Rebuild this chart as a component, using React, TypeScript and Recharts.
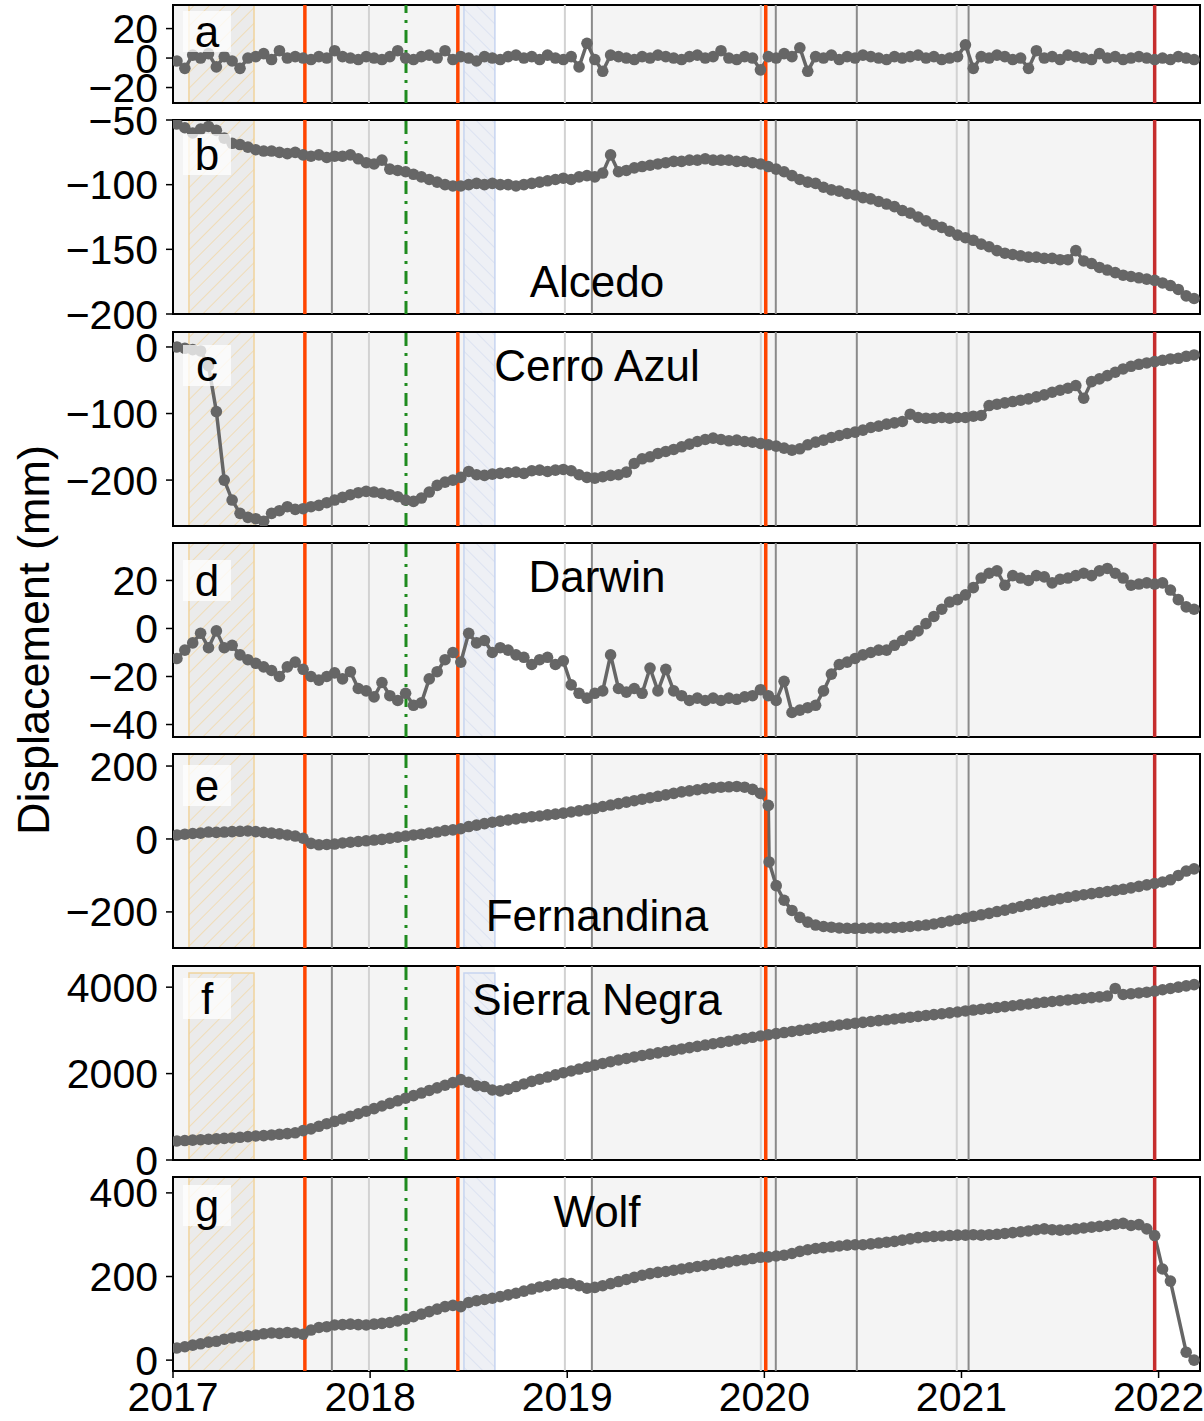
import React from "react";
import { ComposedChart, Line, XAxis, YAxis, ReferenceArea, ReferenceLine } from "recharts";

// acquisition epochs (decimal years); 2020.024 is an extra scene used only by Fernandina
const EPOCHS = [
  2017.02, 2017.06, 2017.1, 2017.14, 2017.18, 2017.22, 2017.26, 2017.3, 2017.34, 2017.38, 2017.42, 2017.46, 2017.5, 2017.54, 2017.58, 2017.62, 2017.66, 2017.7, 2017.74, 2017.78, 2017.82, 2017.86, 2017.9, 2017.94, 2017.98,
  2018.02, 2018.06, 2018.1, 2018.14, 2018.18, 2018.22, 2018.26, 2018.3, 2018.34, 2018.38, 2018.42, 2018.46, 2018.5, 2018.54, 2018.58, 2018.62, 2018.66, 2018.7, 2018.74, 2018.78, 2018.82, 2018.86, 2018.9, 2018.94, 2018.98,
  2019.02, 2019.06, 2019.1, 2019.14, 2019.18, 2019.22, 2019.26, 2019.3, 2019.34, 2019.38, 2019.42, 2019.46, 2019.5, 2019.54, 2019.58, 2019.62, 2019.66, 2019.7, 2019.74, 2019.78, 2019.82, 2019.86, 2019.9, 2019.94, 2019.98,
  2020.02, 2020.024, 2020.06, 2020.1, 2020.14, 2020.18, 2020.22, 2020.26, 2020.3, 2020.34, 2020.38, 2020.42, 2020.46, 2020.5, 2020.54, 2020.58, 2020.62, 2020.66, 2020.7, 2020.74, 2020.78, 2020.82, 2020.86, 2020.9, 2020.94, 2020.98,
  2021.02, 2021.06, 2021.1, 2021.14, 2021.18, 2021.22, 2021.26, 2021.3, 2021.34, 2021.38, 2021.42, 2021.46, 2021.5, 2021.54, 2021.58, 2021.62, 2021.66, 2021.7, 2021.74, 2021.78, 2021.82, 2021.86, 2021.9, 2021.94, 2021.98,
  2022.02, 2022.06, 2022.1, 2022.14, 2022.18,
];

// displacement in mm, one row per year
const REFERENCE = [
  -2, -7, 2, 0, 3, -6, 1, -2, -7, 0, 1, 3, -1, 5, 0, 1, 0, -1, 1, 0, 5, 1, 0, -1, 1,
  0, -1, 1, 5, 0, -1, 1, 2, 0, 5, -1, 1, 0, -2, 1, 0, -1, 1, 2, 0, 1, -1, 2, 0, -1,
  1, -6, 10, -1, -9, 2, 1, 0, -1, 1, 0, 2, 1, 0, -1, 1, 2, 0, 1, 5, 0, -1, 1, 0, -8,
  1, null, 0, 3, 1, 7, -9, 1, 0, 2, -1, 1, 0, 2, 1, 0, -1, 1, 0, 1, 2, 0, 1, -1, 0, 1,
  9, -7, 1, 0, 2, 1, -1, 0, -7, 5, 0, 1, -1, 2, 1, 0, -1, 3, 0, 1, -1, 0, 1, 0, -1,
  0, -1, 1, 0, -1,
];

const ALCEDO = [
  -53, -56, -60, -57, -55, -58, -64, -68, -69, -71, -73, -74, -74, -75, -76, -75, -77, -78, -77, -79, -78, -78, -77, -80, -83,
  -84, -81, -88, -89, -90, -92, -94, -96, -98, -100, -101, -101, -100, -99, -100, -99, -100, -100, -101, -100, -99, -98, -97, -96, -95,
  -96, -94, -93, -94, -91, -77, -90, -89, -87, -86, -85, -84, -83, -82, -82, -81, -81, -80, -81, -81, -81, -82, -82, -83, -84,
  -86, null, -88, -90, -93, -96, -98, -99, -102, -104, -105, -107, -108, -110, -111, -113, -115, -117, -120, -122, -125, -128, -131, -133, -136, -139,
  -141, -143, -146, -148, -151, -153, -154, -155, -156, -156, -157, -157, -158, -158, -151, -159, -161, -164, -166, -168, -170, -171, -172, -173, -174,
  -176, -178, -181, -186, -188,
];

const CERRO_AZUL = [
  0, -2, -4, -6, -28, -97, -200, -230, -250, -256, -258, -262, -250, -246, -240, -244, -243, -240, -238, -234, -230, -226, -222, -219, -217,
  -218, -220, -222, -225, -230, -232, -227, -218, -208, -203, -200, -196, -187, -192, -193, -191, -190, -189, -188, -190, -186, -185, -187, -185, -184,
  -186, -192, -196, -197, -195, -193, -192, -188, -175, -168, -165, -160, -157, -154, -150, -146, -142, -139, -137, -139, -141, -140, -142, -143, -145,
  -147, null, -149, -152, -155, -153, -147, -143, -140, -136, -133, -130, -128, -125, -121, -119, -116, -114, -112, -101, -106, -107, -107, -106, -107, -106,
  -106, -104, -103, -88, -86, -84, -82, -80, -78, -75, -72, -68, -65, -62, -58, -77, -52, -48, -43, -38, -33, -29, -26, -24, -22,
  -20, -18, -17, -14, -12,
];

const DARWIN = [
  -12.5, -9, -6, -2, -8, -1, -8, -7, -11, -13, -14.5, -16, -17.5, -20, -16, -14, -17, -20, -21.5, -20, -18.5, -21, -18, -25, -26,
  -28.5, -22.5, -28, -30, -27, -32, -31, -21, -18, -13, -10, -14, -2, -6, -5, -10, -8, -9, -11, -12, -15, -13, -12, -15, -13.5,
  -23.5, -27, -29, -27, -26, -11, -25, -26.5, -25, -27, -16.5, -26, -17, -26, -28, -30, -29, -30, -29, -30, -29, -29.5, -28.5, -28, -25.5,
  -28, null, -30, -22, -35, -34, -33, -32, -26, -19, -15, -14, -12.5, -11, -10, -9, -9, -7, -5, -3, -1, 2, 5, 8, 11, 12,
  14, 17, 21, 23, 24, 18, 22, 21, 20, 22, 21.5, 19, 20.5, 21, 22, 23, 22, 24, 25, 23, 21, 18, 18.5, 19, 18.5,
  19, 16, 12, 9, 8,
];

const FERNANDINA = [
  11, 13, 15, 16, 19, 18, 19, 20, 21, 22, 20, 18, 16, 14, 11, 8, 2, -12, -16, -15, -14, -11, -9, -7, -5,
  -3, -1, 2, 5, 8, 11, 13, 16, 19, 23, 25, 28, 34, 38, 42, 46, 49, 52, 55, 58, 61, 63, 66, 68, 71,
  74, 77, 80, 84, 89, 93, 97, 101, 105, 109, 113, 117, 121, 125, 129, 132, 135, 138, 140, 142, 143, 144, 142, 136, 125,
  92, -63, -128, -168, -196, -215, -228, -236, -240, -242, -244, -245, -245, -245, -244, -244, -244, -243, -242, -240, -238, -236, -233, -229, -225, -221,
  -217, -212, -208, -204, -199, -195, -190, -185, -180, -176, -172, -168, -164, -160, -156, -153, -150, -147, -144, -141, -138, -134, -130, -126, -122,
  -118, -112, -100, -88, -82,
];

const SIERRA_NEGRA = [
  440, 450, 460, 470, 480, 490, 500, 510, 525, 540, 555, 565, 580, 595, 610, 630, 680, 720, 780, 840, 895, 950, 1010, 1070, 1130,
  1190, 1250, 1310, 1370, 1430, 1490, 1550, 1610, 1670, 1730, 1790, 1860, 1800, 1720, 1700, 1620, 1600, 1640, 1700, 1760, 1820, 1870, 1920, 1970, 2020,
  2060, 2105, 2150, 2195, 2235, 2275, 2315, 2350, 2385, 2420, 2450, 2480, 2510, 2540, 2570, 2600, 2630, 2660, 2690, 2720, 2750, 2780, 2810, 2840, 2870,
  2900, null, 2925, 2950, 2975, 3000, 3025, 3050, 3075, 3100, 3125, 3145, 3165, 3185, 3205, 3225, 3245, 3265, 3285, 3305, 3325, 3345, 3365, 3385, 3405, 3425,
  3450, 3470, 3490, 3510, 3530, 3550, 3570, 3590, 3610, 3630, 3650, 3668, 3686, 3704, 3722, 3740, 3758, 3776, 3794, 3970, 3830, 3848, 3866, 3884, 3910,
  3940, 3970, 4000, 4030, 4060,
];

const WOLF = [
  29, 32, 36, 39, 43, 45, 50, 53, 56, 58, 60, 63, 65, 64, 66, 65, 62, 72, 78, 80, 84, 85, 86, 85, 84,
  86, 88, 90, 94, 98, 104, 110, 116, 122, 128, 131, 128, 138, 142, 145, 148, 152, 156, 160, 165, 170, 175, 178, 182, 184,
  183, 178, 172, 174, 178, 183, 188, 193, 198, 203, 207, 210, 212, 215, 218, 221, 224, 226, 229, 232, 235, 238, 240, 243, 246,
  247, null, 249, 251, 255, 260, 264, 267, 269, 271, 273, 275, 276, 276, 278, 280, 282, 284, 287, 290, 293, 295, 296, 297, 298, 299,
  299, 300, 299, 300, 301, 303, 305, 307, 309, 312, 314, 312, 311, 312, 314, 316, 318, 320, 322, 325, 327, 322, 324, 314, 298,
  218, 189, null, 19, 0,
];

const YEAR_TICKS = [2017, 2018, 2019, 2020, 2021, 2022];
const X_DOMAIN: [number, number] = [2017, 2022.21];

// event timeline shared by all panels
const SHADED_SPANS = [
  [2017, 2018.633],
  [2019.125, 2021.98],
];
const PRE_WINDOW = [2017.081, 2017.411];
const POST_WINDOW = [2018.476, 2018.633];
const DARK_MARKS = [2017.806, 2019.125, 2020.058, 2020.469, 2021.036];
const LIGHT_MARKS = [2017.994, 2018.988, 2019.982, 2020.976];
const ERUPTIONS = [2017.669, 2018.445, 2020.007];
const LAST_ERUPTION = 2021.98;
const DASHED_EVENT = 2018.182;

const WIDTH = 1204;
const PAD = 24;
const XAXIS_H = 50;
const FONT = '"Liberation Sans", Arial, Helvetica, sans-serif';

type PanelSpec = {
  letter: string;
  name: string;
  values: (number | null)[];
  domain: [number, number];
  ticks: number[];
  top: number;
  height: number;
  letterBaseline: number;
  nameBaseline: number;
  windowTop?: number;
};

const PANELS: PanelSpec[] = [
  { letter: "a", name: "", values: REFERENCE, domain: [-30.5, 36], ticks: [-20, 0, 20], top: 5, height: 98, letterBaseline: 47, nameBaseline: 0 },
  { letter: "b", name: "Alcedo", values: ALCEDO, domain: [-200, -50], ticks: [-200, -150, -100, -50], top: 120, height: 194, letterBaseline: 170, nameBaseline: 297 },
  { letter: "c", name: "Cerro Azul", values: CERRO_AZUL, domain: [-269, 22.5], ticks: [-200, -100, 0], top: 332, height: 194, letterBaseline: 381, nameBaseline: 381 },
  { letter: "d", name: "Darwin", values: DARWIN, domain: [-45.2, 35.6], ticks: [-40, -20, 0, 20], top: 543, height: 194, letterBaseline: 596, nameBaseline: 592 },
  { letter: "e", name: "Fernandina", values: FERNANDINA, domain: [-299, 233], ticks: [-200, 0, 200], top: 754, height: 194, letterBaseline: 801, nameBaseline: 931 },
  { letter: "f", name: "Sierra Negra", values: SIERRA_NEGRA, domain: [0, 4490], ticks: [0, 2000, 4000], top: 966, height: 194, letterBaseline: 1014, nameBaseline: 1015, windowTop: 4330 },
  { letter: "g", name: "Wolf", values: WOLF, domain: [-26, 438], ticks: [0, 200, 400], top: 1177, height: 194, letterBaseline: 1221, nameBaseline: 1227 },
];

const fmtTick = (v: number) => String(v).replace("-", "\u2212");
const tickStyle = { fontSize: 41, fill: "#000", fontFamily: FONT };

function Panel({ spec, last }: { spec: PanelSpec; last: boolean }) {
  const rows = EPOCHS.map((t, i) => ({ t, v: spec.values[i] }));
  const h = last ? spec.height + PAD + XAXIS_H : spec.height + 2 * PAD;
  const id = spec.letter;
  const winY1 = spec.windowTop !== undefined ? spec.domain[0] : undefined;
  const winY2 = spec.windowTop;

  return (
    <div style={{ position: "absolute", left: 0, top: spec.top - PAD, width: WIDTH, height: h }}>
      <ComposedChart
        width={WIDTH}
        height={h}
        data={rows}
        margin={{ top: PAD, right: 4, bottom: last ? 0 : PAD, left: 0 }}
      >
        <defs>
          <pattern id={`pre-${id}`} width={11} height={11} patternUnits="userSpaceOnUse" patternTransform="rotate(45)">
            <rect width={11} height={11} fill="#ebebeb" />
            <line x1={0} y1={0} x2={0} y2={11} stroke="#f2d7a6" strokeWidth={1.5} />
          </pattern>
          <pattern id={`post-${id}`} width={11} height={11} patternUnits="userSpaceOnUse" patternTransform="rotate(-45)">
            <rect width={11} height={11} fill="#eef0f5" />
            <line x1={0} y1={0} x2={0} y2={11} stroke="#d6def0" strokeWidth={1.5} />
          </pattern>
        </defs>
        <XAxis
          type="number"
          dataKey="t"
          domain={X_DOMAIN}
          allowDataOverflow
          hide={!last}
          ticks={YEAR_TICKS}
          interval={0}
          height={XAXIS_H}
          axisLine={false}
          tickLine={{ stroke: "#000", strokeWidth: 1.5 }}
          tickSize={7}
          tickMargin={4}
          tick={tickStyle}
        />
        <YAxis
          type="number"
          domain={spec.domain}
          allowDataOverflow
          ticks={spec.ticks}
          interval={0}
          width={173}
          axisLine={false}
          tickLine={{ stroke: "#000", strokeWidth: 1.5 }}
          tickSize={7}
          tickMargin={8}
          tickFormatter={fmtTick}
          tick={tickStyle}
        />
        {SHADED_SPANS.map(([a, b]) => (
          <ReferenceArea key={`s${a}`} x1={a} x2={b} fill="#f4f4f4" fillOpacity={1} stroke="none" ifOverflow="hidden" />
        ))}
        <ReferenceArea
          x1={PRE_WINDOW[0]}
          x2={PRE_WINDOW[1]}
          y1={winY1}
          y2={winY2}
          fill={`url(#pre-${id})`}
          fillOpacity={1}
          stroke="#f0d39c"
          strokeWidth={1.5}
          ifOverflow="hidden"
        />
        <ReferenceArea
          x1={POST_WINDOW[0]}
          x2={POST_WINDOW[1]}
          y1={winY1}
          y2={winY2}
          fill={`url(#post-${id})`}
          fillOpacity={1}
          stroke="#c6d4f0"
          strokeWidth={1.5}
          ifOverflow="hidden"
        />
        {DARK_MARKS.map((x) => (
          <ReferenceLine key={`d${x}`} x={x} stroke="#8a8a8a" strokeWidth={2} />
        ))}
        {LIGHT_MARKS.map((x) => (
          <ReferenceLine key={`l${x}`} x={x} stroke="#d2d2d2" strokeWidth={2} />
        ))}
        <Line
          type="linear"
          dataKey="v"
          stroke="#666666"
          strokeWidth={3.5}
          dot={{ r: 5.8, fill: "#666666", stroke: "#666666", strokeWidth: 0 }}
          activeDot={false}
          connectNulls
          isAnimationActive={false}
        />
        {ERUPTIONS.map((x) => (
          <ReferenceLine key={`e${x}`} x={x} stroke="#ff4500" strokeWidth={3.5} />
        ))}
        <ReferenceLine x={LAST_ERUPTION} stroke="#c62d2d" strokeWidth={3.5} />
        <ReferenceLine x={DASHED_EVENT} stroke="#1f8b1f" strokeWidth={3} strokeDasharray="13 7 3 7" />
        <ReferenceArea x1={X_DOMAIN[0]} x2={X_DOMAIN[1]} fill="none" stroke="#000" strokeWidth={2} />
      </ComposedChart>
    </div>
  );
}

export default function App() {
  return (
    <div
      style={{
        position: "absolute",
        left: 0,
        top: 0,
        width: WIDTH,
        height: 1421,
        background: "#fff",
        fontFamily: FONT,
        overflow: "hidden",
      }}
    >
      {PANELS.map((p, i) => (
        <Panel key={p.letter} spec={p} last={i === PANELS.length - 1} />
      ))}

      {PANELS.map((p) => (
        <React.Fragment key={`lbl-${p.letter}`}>
          <div
            style={{
              position: "absolute",
              left: 183,
              top: p.letterBaseline - 36,
              width: 48,
              height: 41,
              background: "rgba(255,255,255,0.75)",
            }}
          />
          <div
            style={{
              position: "absolute",
              left: 183,
              width: 48,
              top: p.letterBaseline - 37,
              fontSize: 44,
              lineHeight: "44px",
              textAlign: "center",
              color: "#000",
            }}
          >
            {p.letter}
          </div>
          {p.name && (
            <div
              style={{
                position: "absolute",
                left: 597,
                top: p.nameBaseline - 37,
                transform: "translateX(-50%)",
                fontSize: 44,
                lineHeight: "44px",
                whiteSpace: "nowrap",
                color: "#000",
              }}
            >
              {p.name}
            </div>
          )}
        </React.Fragment>
      ))}

      <div
        style={{
          position: "absolute",
          left: 33,
          top: 640,
          transform: "translate(-50%, -50%) rotate(-90deg)",
          fontSize: 45,
          lineHeight: "45px",
          whiteSpace: "nowrap",
          color: "#000",
        }}
      >
        Displacement (mm)
      </div>
    </div>
  );
}
